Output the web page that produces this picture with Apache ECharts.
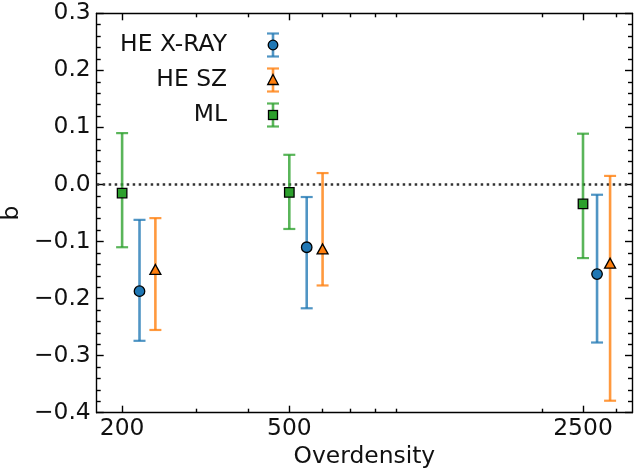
<!DOCTYPE html>
<html>
<head>
<meta charset="utf-8">
<script src="https://cdn.jsdelivr.net/npm/echarts@6/dist/echarts.min.js"></script>
<style>
  html, body { margin: 0; padding: 0; background: #fff; }
  #chart { width: 635px; height: 474px; }
</style>
</head>
<body>
<div id="chart"></div>
<script>
// Hydrostatic-equilibrium and ML mass bias b at three overdensities.
const seriesNames = ['HE X-RAY', 'HE SZ', 'ML'];

// Overdensity where each group is plotted (slightly offset for legibility)
const xrayX = [220, 550, 2700];
const szX = [240, 600, 2900];
const mlX = [200, 500, 2500];

// Central values and lower / upper error-bar ends
const xrayB = [-0.187, -0.110, -0.157];
const xrayLo = [-0.274, -0.217, -0.277];
const xrayHi = [-0.062, -0.022, -0.018];

const szB = [-0.149, -0.113, -0.138];
const szLo = [-0.255, -0.177, -0.379];
const szHi = [-0.059, 0.020, 0.015];

const mlB = [-0.015, -0.014, -0.034];
const mlLo = [-0.110, -0.078, -0.129];
const mlHi = [0.090, 0.052, 0.089];

// Axis ticks
const xMajorTicks = [200, 500, 2500];
const xMinorTicks = [300, 400, 600, 700, 800, 900, 2000, 3000];
const xMin = 174, xMax = 3270;
const yMin = -0.4, yMax = 0.3, yStep = 0.1;

const FONT = 'DejaVu Sans';
const FS = 23.4;
const colors = {
  'HE X-RAY': { line: 'rgba(31,119,180,0.78)', fill: '#1f77b4', symbol: 'circle', size: 10.5 },
  'HE SZ': { line: 'rgba(255,127,14,0.8)', fill: '#ff7f0e', symbol: 'triangle', size: 11 },
  'ML': { line: 'rgba(44,160,44,0.78)', fill: '#2ca02c', symbol: 'rect', size: 9.5 }
};

function zip3(xs, lo, hi) { return xs.map((x, i) => [x, lo[i], hi[i]]); }
function zip2(xs, ys) { return xs.map((x, i) => [x, ys[i]]); }

function errorBar(params, api) {
  const x = api.value(0);
  const top = api.coord([x, api.value(2)]);
  const bot = api.coord([x, api.value(1)]);
  const c = api.visual('color');
  const cap = 6;
  return {
    type: 'group',
    children: [
      { type: 'line', shape: { x1: top[0], y1: top[1], x2: bot[0], y2: bot[1] }, style: { stroke: c, lineWidth: 2.6 } },
      { type: 'line', shape: { x1: top[0] - cap, y1: top[1], x2: top[0] + cap, y2: top[1] }, style: { stroke: c, lineWidth: 2.2 } },
      { type: 'line', shape: { x1: bot[0] - cap, y1: bot[1], x2: bot[0] + cap, y2: bot[1] }, style: { stroke: c, lineWidth: 2.2 } }
    ]
  };
}

// Legend glyph: an error bar with its marker, drawn on the right of a wider box
function legendIcon(name) {
  const s = colors[name];
  const cx = 41, cy = 13;
  let marker;
  if (s.symbol === 'circle') {
    marker = `<circle cx='${cx}' cy='${cy}' r='4.8' fill='${s.fill}' stroke='#000' stroke-width='1.3'/>`;
  } else if (s.symbol === 'triangle') {
    marker = `<path d='M${cx} ${cy - 5.5} L${cx + 5.3} ${cy + 4.5} L${cx - 5.3} ${cy + 4.5} Z' fill='${s.fill}' stroke='#000' stroke-width='1.3'/>`;
  } else {
    marker = `<rect x='${cx - 4.5}' y='${cy - 4.5}' width='9' height='9' fill='${s.fill}' stroke='#000' stroke-width='1.3'/>`;
  }
  const svg = `<svg xmlns='http://www.w3.org/2000/svg' width='48' height='26' viewBox='0 0 48 26'>` +
    `<g stroke='${s.line}' fill='none'>` +
    `<line x1='${cx}' y1='1.5' x2='${cx}' y2='24.5' stroke-width='2.6'/>` +
    `<line x1='${cx - 6}' y1='1.5' x2='${cx + 6}' y2='1.5' stroke-width='2.2'/>` +
    `<line x1='${cx - 6}' y1='24.5' x2='${cx + 6}' y2='24.5' stroke-width='2.2'/>` +
    `</g>${marker}</svg>`;
  return 'image://data:image/svg+xml;charset=utf-8,' + encodeURIComponent(svg);
}

const fmtY = v => {
  if (Math.abs(v) < 1e-9) return '0.0';
  return v.toFixed(1).replace('-', '\u2212');
};

const tickStyle = { color: '#000', width: 1.4 };

function xAxisDef(position, ticks, len, withLine) {
  const labelled = withLine && position === 'bottom';
  return {
    type: 'log', logBase: 10, min: xMin, max: xMax, position,
    name: labelled ? 'Overdensity' : '', nameLocation: 'middle', nameGap: 33,
    nameTextStyle: { fontFamily: FONT, fontSize: FS, color: '#111' },
    axisLine: { show: withLine, onZero: false, lineStyle: { color: '#000', width: 1.4 } },
    axisTick: { show: true, inside: true, length: len, customValues: ticks, lineStyle: tickStyle },
    axisLabel: {
      show: labelled, customValues: ticks, margin: 5,
      fontFamily: FONT, fontSize: FS, color: '#111',
      formatter: v => String(Math.round(v))
    },
    minorTick: { show: false }, splitLine: { show: false }
  };
}

function yAxisDef(position, isMain) {
  return {
    type: 'value', min: yMin, max: yMax, interval: yStep, position,
    name: isMain ? 'b' : '', nameLocation: 'middle', nameGap: 68, nameRotate: 90,
    nameTextStyle: { fontFamily: FONT, fontSize: FS, color: '#111' },
    axisLine: { show: true, onZero: false, lineStyle: { color: '#000', width: 1.4 } },
    axisTick: { show: true, inside: true, length: 7, lineStyle: tickStyle },
    minorTick: { show: true, splitNumber: 5, length: 4, lineStyle: tickStyle },
    axisLabel: { show: isMain, margin: 6, fontFamily: FONT, fontSize: FS, color: '#111', formatter: fmtY },
    splitLine: { show: false }
  };
}

const series = [];
const groups = [
  ['HE X-RAY', xrayX, xrayB, xrayLo, xrayHi],
  ['HE SZ', szX, szB, szLo, szHi],
  ['ML', mlX, mlB, mlLo, mlHi]
];
groups.forEach(([name, xs, b, lo, hi], gi) => {
  const s = colors[name];
  const bars = {
    name, type: 'custom', xAxisIndex: 0, yAxisIndex: 0, z: 3,
    itemStyle: { color: s.line },
    renderItem: errorBar,
    encode: { x: 0, y: [1, 2] },
    data: zip3(xs, lo, hi),
    silent: true
  };
  if (gi === 0) {
    bars.markLine = {
      silent: true, symbol: 'none', z: 2,
      label: { show: false },
      lineStyle: { color: '#333', type: [2.5, 3.5], width: 2.6 },
      data: [{ yAxis: 0 }]
    };
  }
  series.push(bars);
  series.push({
    name, type: 'scatter', xAxisIndex: 0, yAxisIndex: 0, z: 4,
    symbol: s.symbol, symbolSize: s.symbol === 'triangle' ? [11, 10] : s.size,
    itemStyle: { color: s.fill, borderColor: '#000', borderWidth: 1.3, opacity: 1 },
    data: zip2(xs, b),
    silent: true
  });
});

const chart = echarts.init(document.getElementById('chart'), null, { renderer: 'canvas' });
chart.setOption({
  animation: false,
  backgroundColor: '#fff',
  grid: { left: 96.7, right: 3, top: 13.3, bottom: 61.3, containLabel: false, outerBoundsMode: 'none' },
  legend: {
    orient: 'vertical', align: 'right', right: 355, top: 32, padding: 0,
    itemWidth: 48, itemHeight: 26, itemGap: 9, selectedMode: false,
    textStyle: { fontFamily: FONT, fontSize: FS, color: '#111' },
    data: seriesNames.map(n => ({ name: n, icon: legendIcon(n) }))
  },
  xAxis: [
    xAxisDef('bottom', xMajorTicks, 7, true),
    xAxisDef('bottom', xMinorTicks, 4, false),
    xAxisDef('top', xMajorTicks, 7, true),
    xAxisDef('top', xMinorTicks, 4, false)
  ],
  yAxis: [yAxisDef('left', true), yAxisDef('right', false)],
  series
});
</script>
</body>
</html>
